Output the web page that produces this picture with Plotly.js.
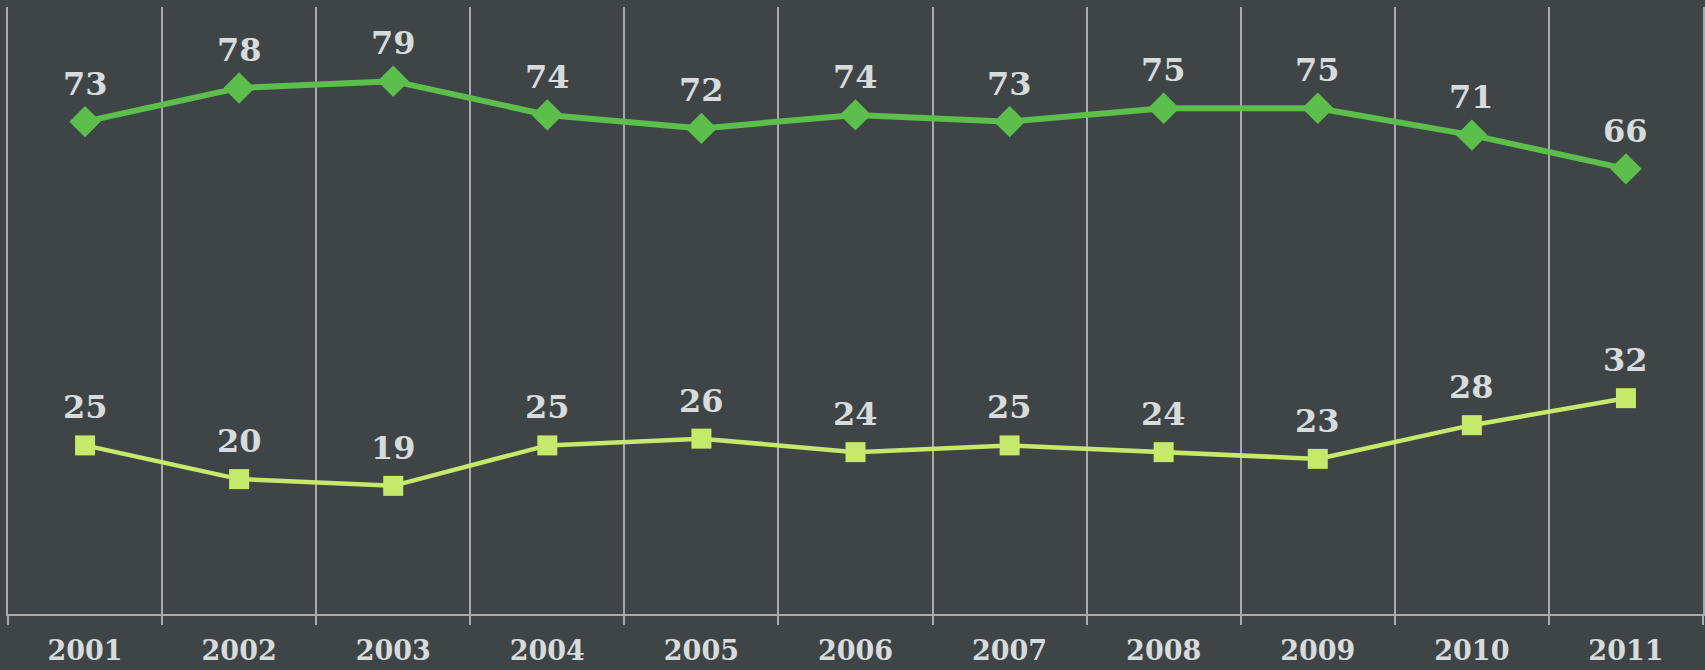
<!DOCTYPE html>
<html>
<head>
<meta charset="utf-8">
<script src="https://cdn.plot.ly/plotly-3.0.1.min.js"></script>
<style>
html,body{margin:0;padding:0;background:#3f4547;}
#chart{width:1705px;height:670px;}
</style>
</head>
<body>
<div id="chart"></div>
<script>
const years = ["2001","2002","2003","2004","2005","2006","2007","2008","2009","2010","2011"];
const seriesA = [73,78,79,74,72,74,73,75,75,71,66];
const seriesB = [25,20,19,25,26,24,25,24,23,28,32];

const fontFamily = "Georgia, 'DejaVu Serif', serif";

const traces = [
  {
    x: years, y: seriesA, type: "scatter", mode: "lines+markers",
    line: {color: "#5cbf4b", width: 6},
    marker: {symbol: "diamond", size: 22, color: "#5cbf4b", line: {color: "#5cbf4b", width: 2}},
    hoverinfo: "x+y", cliponaxis: false
  },
  {
    x: years, y: seriesB, type: "scatter", mode: "lines+markers",
    line: {color: "#c6e86b", width: 4.5},
    marker: {symbol: "square", size: 20, color: "#c6e86b"},
    hoverinfo: "x+y", cliponaxis: false
  }
];

function labels(vals) {
  return vals.map((v, i) => ({
    xref: "x", yref: "y",
    x: i, y: v, text: "<b>" + v + "</b>", showarrow: false,
    yshift: 38,
    font: {family: fontFamily, size: 32, color: "#d8dbdb"}
  }));
}

const gridCol = "#aaaaaa";

const layout = {
  width: 1705, height: 670,
  margin: {l: 8, r: 2, t: 7, b: 56},
  paper_bgcolor: "#3f4547", plot_bgcolor: "#3f4547",
  showlegend: false,
  annotations: labels(seriesA).concat(labels(seriesB)),
  xaxis: {
    type: "category",
    range: [-0.5, 10.5],
    tickson: "boundaries",
    ticks: "outside", ticklen: 9, tickcolor: gridCol, tickwidth: 2,
    showgrid: true, gridcolor: gridCol, gridwidth: 2,
    showline: true, linecolor: gridCol, linewidth: 2,
    ticklabelstandoff: 12,
    tickfont: {family: fontFamily, size: 27, color: "#d8dbdb", weight: "bold"},
    fixedrange: true
  },
  yaxis: {
    range: [0, 90], showticklabels: false, showgrid: false, zeroline: false, ticks: "",
    showline: true, mirror: true, linecolor: gridCol, linewidth: 2, fixedrange: true
  }
};

Plotly.newPlot("chart", traces, layout, {displayModeBar: false, staticPlot: true});
</script>
</body>
</html>
